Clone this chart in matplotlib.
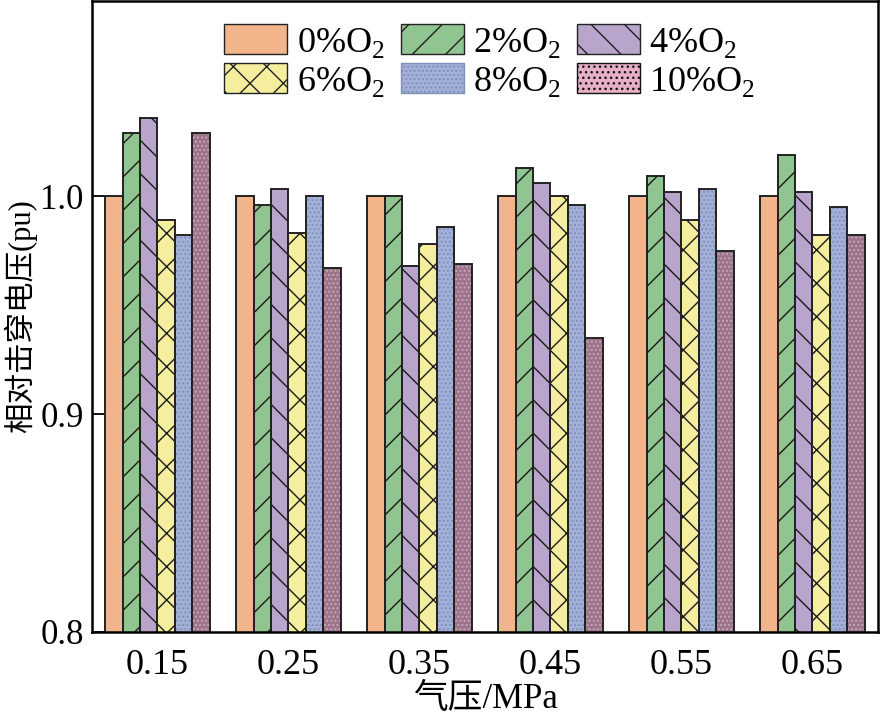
import matplotlib
matplotlib.use("Agg")
import matplotlib.pyplot as plt
import numpy as np
from matplotlib.patches import Patch

plt.rcParams['font.family'] = ['Liberation Serif', 'Noto Sans CJK SC']
plt.rcParams['mathtext.fontset'] = 'custom'
plt.rcParams['mathtext.rm'] = 'Liberation Serif'
plt.rcParams['hatch.linewidth'] = 1.0

pressures = ['0.15', '0.25', '0.35', '0.45', '0.55', '0.65']
series_labels = ['0%O$_\\mathregular{2}$', '2%O$_\\mathregular{2}$', '4%O$_\\mathregular{2}$',
                 '6%O$_\\mathregular{2}$', '8%O$_\\mathregular{2}$', '10%O$_\\mathregular{2}$']
o2_0 = [1.000, 1.000, 1.000, 1.000, 1.000, 1.000]
o2_2 = [1.029, 0.996, 1.000, 1.013, 1.009, 1.019]
o2_4 = [1.036, 1.003, 0.968, 1.006, 1.002, 1.002]
o2_6 = [0.989, 0.983, 0.978, 1.000, 0.989, 0.982]
o2_8 = [0.982, 1.000, 0.986, 0.996, 1.003, 0.995]
o2_10 = [1.029, 0.967, 0.969, 0.935, 0.975, 0.982]
series = [o2_0, o2_2, o2_4, o2_6, o2_8, o2_10]

colors = ['#F2B48A', '#90C490', '#B9A5CB', '#F5EE9E', '#A3B0D8', '#9C7489']
hatches = [None, '/', '\\', 'x', '....', '....']
hatch_colors = ['k', '#1a1a1a', '#1a1a1a', '#1a1a1a', '#8090B8', '#C8A4B8']
legend_faces = ['#F2B48A', '#90C490', '#B9A5CB', '#F5EE9E', '#A3B0D8', '#E6AFC6']
legend_hatches = [None, '/', '\\', 'x', '....', '...']
legend_hatch_colors = ['#222222', '#222222', '#222222', '#222222', '#8090B8', '#111111']

fig = plt.figure(figsize=(8.8, 7.27), dpi=100)
ax = fig.add_axes([0.1045, 0.1307, 0.8932, 0.868])

x = np.arange(len(pressures))
w = 0.8 / 6
for i, vals in enumerate(series):
    pos = x + (i - 2.5) * w
    ax.bar(pos, vals, width=w, color=colors[i], hatch=hatches[i],
           edgecolor=hatch_colors[i], linewidth=0, zorder=2)
    ax.bar(pos, vals, width=w, color='none', edgecolor='#222222',
           linewidth=1.4, zorder=3)

ax.set_xlim(-0.5, 5.5)
ax.set_ylim(0.8, 1.0895)
ax.set_yticks([0.8, 0.9, 1.0])
ax.set_yticklabels(['0.8', '0.9', '1.0'])
ax.set_xticks(x)
ax.set_xticklabels(pressures)
ax.tick_params(axis='y', direction='in', length=10, width=1.3, labelsize=25, pad=6)
ax.tick_params(axis='x', length=0, labelsize=26, pad=12)
for s in ax.spines.values():
    s.set_linewidth(1.8)
    s.set_zorder(5)

ax.set_xlabel('气压/MPa', fontsize=25, labelpad=1)
ax.set_ylabel('相对击穿电压(pu)', fontsize=22)
ax.yaxis.set_label_coords(-0.07, 0.5)

handles = []
for i in range(6):
    handles.append(Patch(facecolor=legend_faces[i], hatch=legend_hatches[i],
                         edgecolor=legend_hatch_colors[i], linewidth=1.0))
order = [0, 3, 1, 4, 2, 5]
leg = ax.legend([handles[k] for k in order], [series_labels[k] for k in order],
                ncol=3, loc='upper center', bbox_to_anchor=(0.506, 1.0),
                frameon=False, fontsize=26, handlelength=1.75, handleheight=0.9,
                columnspacing=0.45, handletextpad=0.25, labelspacing=0.1,
                borderaxespad=0.25)

fig.savefig('out.png', dpi=100)
